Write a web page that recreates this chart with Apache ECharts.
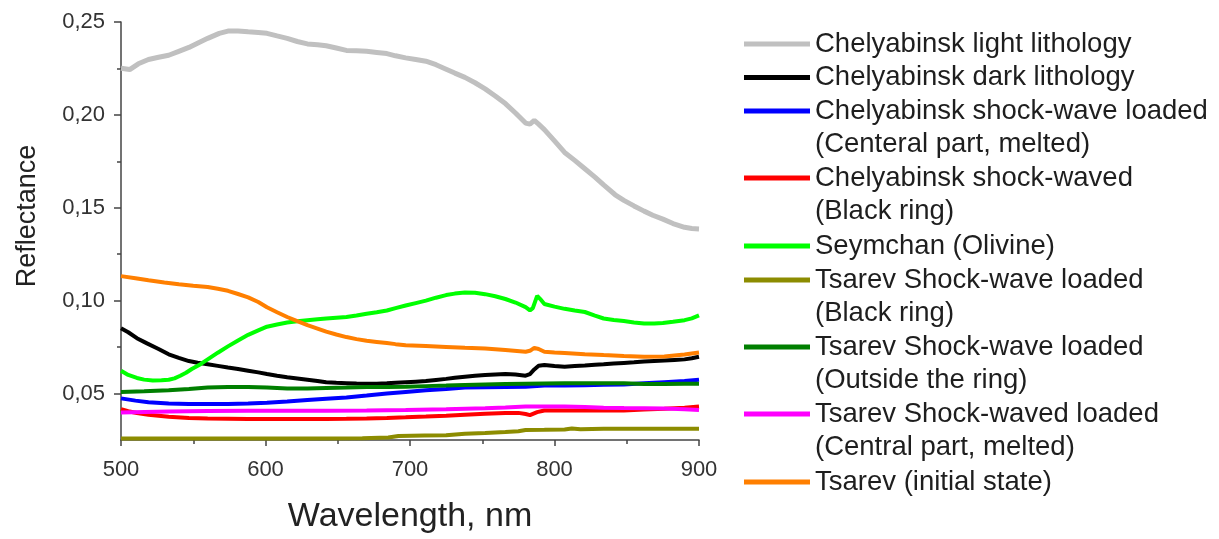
<!DOCTYPE html>
<html>
<head>
<meta charset="utf-8">
<script src="https://cdn.jsdelivr.net/npm/echarts@6/dist/echarts.min.js"></script>
<style>
html,body{margin:0;padding:0;background:#fff;}
#chart{width:1219px;height:539px;}
</style>
</head>
<body>
<div id="chart"></div>
<script>
// ---- data (wavelength nm, reflectance) ----
const lightLithology = [[500,.2251],[506,.2244],[512,.2275],[519,.2298],[526,.2310],[533,.2321],[540,.2342],[547,.2363],[554,.2390],[560,.2412],[568,.2439],[574,.2451],[581,.2452],[588,.2447],[595,.2444],[601,.2439],[608,.2425],[615,.2412],[622,.2395],[629,.2382],[636,.2378],[642,.2372],[649,.2360],[656,.2347],[663,.2345],[670,.2342],[677,.2336],[684,.2330],[690,.2318],[697,.2307],[704,.2298],[711,.2289],[718,.2270],[725,.2246],[731,.2225],[738,.2202],[745,.2173],[752,.2140],[759,.2102],[766,.2061],[773,.2010],[780,.1956],[783,.1950],[786,.1970],[789,.1950],[793,.1921],[800,.1860],[807,.1798],[814,.1755],[821,.1710],[828,.1665],[834,.1623],[842,.1570],[848,.1540],[855,.1510],[862,.1482],[868,.1460],[875,.1439],[882,.1415],[890,.1395],[895,.1388],[900,.1386]];
const darkLithology = [[500,.0851],[505,.0830],[511,.0798],[518,.0770],[526,.0740],[533,.0711],[540,.0692],[547,.0675],[553,.0666],[560,.0658],[567,.0649],[574,.0640],[581,.0632],[588,.0623],[595,.0614],[601,.0605],[608,.0596],[615,.0588],[622,.0581],[629,.0574],[636,.0567],[642,.0561],[649,.0558],[656,.0556],[663,.0554],[670,.0553],[677,.0553],[684,.0555],[690,.0558],[697,.0561],[704,.0564],[711,.0567],[718,.0573],[725,.0579],[731,.0585],[738,.0591],[745,.0596],[752,.0600],[759,.0603],[766,.0605],[773,.0602],[780,.0596],[783,.0605],[786,.0630],[789,.0650],[793,.0654],[800,.0648],[807,.0644],[814,.0648],[821,.0651],[828,.0655],[834,.0658],[841,.0662],[848,.0665],[855,.0668],[862,.0672],[869,.0675],[876,.0678],[883,.0681],[890,.0684],[895,.0690],[900,.0698]];
const chelMelted = [[500,.0474],[510,.0462],[519,.0453],[533,.0447],[547,.0444],[560,.0444],[574,.0444],[588,.0447],[601,.0451],[615,.0457],[629,.0465],[642,.0472],[656,.0479],[670,.0489],[684,.0500],[697,.0509],[711,.0518],[725,.0525],[738,.0532],[752,.0534],[766,.0535],[780,.0537],[793,.0544],[807,.0544],[821,.0545],[834,.0547],[848,.0549],[862,.0555],[876,.0561],[890,.0567],[900,.0574]];
const chelBlackRing = [[500,.0416],[505,.0405],[511,.0395],[519,.0386],[533,.0375],[547,.0368],[560,.0366],[574,.0365],[588,.0363],[601,.0363],[615,.0363],[629,.0363],[642,.0363],[656,.0364],[670,.0366],[684,.0369],[697,.0372],[711,.0376],[725,.0381],[738,.0386],[752,.0391],[766,.0395],[775,.0396],[780,.0390],[783,.0384],[788,.0400],[793,.0409],[807,.0409],[821,.0409],[834,.0409],[848,.0409],[862,.0414],[876,.0418],[890,.0424],[900,.0430]];
const seymchan = [[500,.0623],[505,.0600],[511,.0584],[516,.0575],[522,.0570],[528,.0571],[533,.0574],[537,.0582],[541,.0596],[545,.0612],[549,.0632],[555,.0658],[560,.0684],[567,.0720],[574,.0754],[581,.0786],[588,.0816],[595,.0840],[601,.0860],[608,.0872],[615,.0882],[622,.0889],[629,.0895],[636,.0900],[642,.0904],[649,.0908],[656,.0912],[663,.0920],[670,.0930],[677,.0938],[684,.0947],[690,.0960],[697,.0974],[704,.0987],[711,.1000],[718,.1016],[725,.1030],[731,.1038],[738,.1044],[745,.1043],[752,.1035],[759,.1024],[766,.1009],[773,.0990],[780,.0965],[783,.0948],[785,.0960],[788,.1026],[790,.1010],[793,.0982],[800,.0968],[807,.0956],[814,.0947],[821,.0939],[828,.0920],[834,.0904],[841,.0896],[848,.0890],[855,.0883],[862,.0877],[869,.0877],[875,.0880],[882,.0886],[890,.0895],[895,.0905],[900,.0921]];
const tsarevBlackRing = [[500,.0258],[540,.0258],[588,.0258],[630,.0258],[667,.0260],[685,.0263],[692,.0272],[710,.0274],[725,.0275],[738,.0284],[752,.0288],[766,.0293],[775,.0297],[780,.0304],[793,.0305],[807,.0307],[812,.0312],[818,.0308],[834,.0310],[862,.0310],[900,.0310]];
const tsarevOutside = [[500,.0509],[516,.0512],[533,.0518],[547,.0525],[560,.0532],[574,.0535],[588,.0535],[601,.0532],[615,.0527],[629,.0527],[642,.0530],[656,.0532],[670,.0535],[684,.0535],[697,.0537],[711,.0540],[725,.0543],[738,.0546],[752,.0549],[766,.0551],[780,.0553],[793,.0554],[807,.0555],[821,.0556],[834,.0556],[848,.0555],[862,.0551],[876,.0552],[890,.0553],[900,.0553]];
const tsarevMelted = [[500,.0398],[533,.0404],[560,.0406],[588,.0407],[615,.0407],[642,.0407],[670,.0409],[697,.0412],[725,.0416],[752,.0421],[766,.0425],[780,.0430],[793,.0430],[807,.0430],[821,.0428],[834,.0424],[848,.0422],[862,.0421],[876,.0419],[890,.0416],[900,.0412]];
const tsarevInitial = [[500,.1132],[510,.1121],[519,.1110],[530,.1098],[540,.1088],[550,.1080],[560,.1074],[567,.1064],[574,.1053],[581,.1036],[588,.1018],[595,.0993],[601,.0965],[608,.0938],[615,.0912],[622,.0890],[629,.0868],[636,.0850],[642,.0833],[649,.0818],[656,.0804],[663,.0793],[670,.0784],[677,.0778],[684,.0772],[690,.0766],[697,.0760],[711,.0756],[725,.0751],[738,.0746],[752,.0742],[766,.0734],[780,.0725],[783,.0730],[786,.0746],[789,.0740],[793,.0725],[800,.0721],[807,.0718],[821,.0712],[834,.0707],[848,.0702],[862,.0698],[876,.0700],[890,.0710],[900,.0721]];

const seriesNames = [
  'Chelyabinsk light lithology',
  'Chelyabinsk dark lithology',
  'Chelyabinsk shock-wave loaded\n(Centeral part, melted)',
  'Chelyabinsk shock-waved\n(Black ring)',
  'Seymchan (Olivine)',
  'Tsarev Shock-wave loaded\n(Black ring)',
  'Tsarev Shock-wave loaded\n(Outside the ring)',
  'Tsarev Shock-waved loaded\n(Central part, melted)',
  'Tsarev (initial state)'
];
const seriesData = [lightLithology, darkLithology, chelMelted, chelBlackRing, seymchan, tsarevBlackRing, tsarevOutside, tsarevMelted, tsarevInitial];
const xTicks = [500, 600, 700, 800, 900];
const yTickLabels = [0.05, 0.10, 0.15, 0.20, 0.25];
const yMinorTicks = [0.075, 0.125, 0.175, 0.225];

// ---- styling ----
const colors = ['#c0c0c0', '#000000', '#0000ff', '#ff0000', '#00ff00', '#8c8c00', '#007f00', '#ff00ff', '#ff7f00'];
const widths = [5, 4, 4, 4, 4, 4, 4, 4, 4];
const legendLineCenters = [44, 77.5, 111, 178, 246, 280, 347, 414, 482];
const LH = 33.8;
const FONT = 'Liberation Sans, Arial, sans-serif';

const chart = echarts.init(document.getElementById('chart'), null, {renderer: 'canvas'});

const legends = seriesNames.map((name, i) => {
  const multi = name.indexOf('\n') >= 0;
  return {
    data: [name],
    left: 744,
    top: legendLineCenters[i] - (multi ? LH * 1.5 : LH / 2),
    padding: 0,
    itemGap: 0,
    itemWidth: 66,
    itemHeight: 5,
    icon: 'rect',
    selectedMode: false,
    formatter: function (n) {
      const p = n.split('\n');
      if (p.length === 1) return n;
      return ' \n' + p[0] + '\n' + p[1];
    },
    textStyle: {fontFamily: FONT, fontSize: 27.5, lineHeight: LH, color: '#1e1e1e'}
  };
});

const series = seriesNames.map((name, i) => ({
  name: name,
  type: 'line',
  data: seriesData[i],
  showSymbol: false,
  symbol: 'none',
  color: colors[i],
  lineStyle: {width: widths[i], color: colors[i]},
  itemStyle: {color: colors[i]},
  animation: false,
  z: 2
}));

const fmt = v => v.toFixed(2).replace('.', ',');

chart.setOption({
  animation: false,
  backgroundColor: '#ffffff',
  grid: {left: 121, right: 520, top: 22, bottom: 89, containLabel: false},
  legend: legends,
  xAxis: {
    type: 'value',
    min: 500, max: 900, interval: 100,
    name: 'Wavelength, nm',
    nameLocation: 'middle',
    nameGap: 60,
    nameTextStyle: {fontFamily: FONT, fontSize: 34, color: '#222'},
    axisLine: {show: true, lineStyle: {color: '#444', width: 1.5}},
    axisTick: {show: true, length: 6, lineStyle: {color: '#444', width: 1.5}},
    minorTick: {show: true, splitNumber: 2, length: 4, lineStyle: {color: '#444', width: 1.5}},
    axisLabel: {fontFamily: FONT, fontSize: 22, color: '#333', margin: 19,
      customValues: xTicks},
    splitLine: {show: false}
  },
  yAxis: [{
    type: 'value',
    min: 0.025, max: 0.25,
    name: 'Reflectance',
    nameLocation: 'middle',
    nameGap: 80,
    nameRotate: 90,
    nameTextStyle: {fontFamily: FONT, fontSize: 27, color: '#222', padding: [0, 0, 0, 30]},
    axisLine: {show: true, lineStyle: {color: '#444', width: 1.5}},
    axisTick: {show: true, length: 7, customValues: yTickLabels, lineStyle: {color: '#444', width: 1.5}},
    axisLabel: {fontFamily: FONT, fontSize: 22, color: '#333', margin: 16,
      customValues: yTickLabels, formatter: fmt},
    splitLine: {show: false}
  }, {
    type: 'value',
    min: 0.025, max: 0.25,
    position: 'left',
    axisLine: {show: false},
    axisTick: {show: true, length: 4, customValues: yMinorTicks, lineStyle: {color: '#444', width: 1.5}},
    axisLabel: {show: false},
    splitLine: {show: false}
  }],
  series: series
});
</script>
</body>
</html>
